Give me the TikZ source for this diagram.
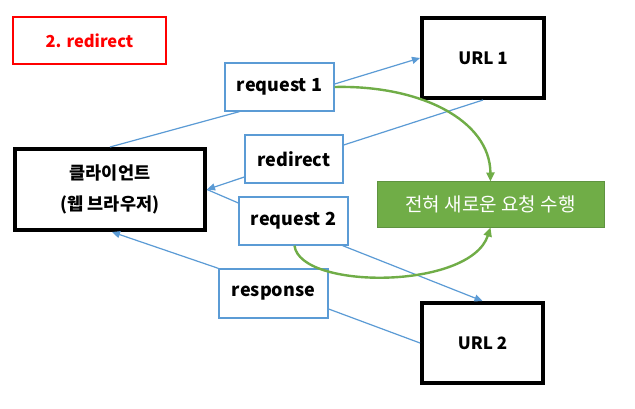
\documentclass[tikz,border=0pt]{standalone}
\usepackage{fontspec}
\setmainfont{Noto Sans CJK KR}
\usetikzlibrary{arrows.meta,calc}
\definecolor{ablue}{HTML}{5B9BD5}
\definecolor{agreen}{HTML}{70AD47}
\definecolor{agreenb}{HTML}{5F9340}
\definecolor{ared}{HTML}{FF0000}
\tikzset{
  bluebox/.style={draw=ablue, line width=1.3pt, fill=white, inner sep=0pt,
    font=\bfseries\fontsize{18}{21}\selectfont, minimum width=109pt, minimum height=48pt},
  thickbox/.style={draw=black, line width=4pt, fill=white, inner sep=0pt,
    font=\bfseries\fontsize{17}{20}\selectfont, minimum width=122pt, minimum height=80pt},
  conn/.style={draw=ablue, line width=1.2pt},
  connarrow/.style={conn, -{Triangle[length=8pt,width=7pt]}},
  greenarrow/.style={draw=agreen, line width=2.4pt, -{Triangle[length=9pt,width=8pt]}}
}
\begin{document}
\begin{tikzpicture}[x=1pt,y=-1pt]
\useasboundingbox[fill=white] (0,0) rectangle (635,409);
% title
\node[draw=ared, line width=1.3pt, text=ared, inner sep=0pt, minimum width=153pt, minimum height=47pt,
  font=\bfseries\fontsize{16.5}{19}\selectfont] (title) at (89.5,40.5) {2. redirect};
% main boxes
\node[thickbox, minimum width=190pt, minimum height=81pt, align=center,
  font=\bfseries\fontsize{17.5}{31}\selectfont] (client) at (110,189.5) {클라이언트\\(웹 브라우저)};
\node[thickbox] (url1) at (483,58) {URL 1};
\node[thickbox, minimum width=121pt] (url2) at (482.5,343) {URL 2};
% message boxes
\node[bluebox] (req1) at (279.5,87) {request 1};
\node[bluebox, minimum width=98pt] (redir) at (294,159) {redirect};
\node[bluebox] (req2) at (293.5,221) {request 2};
\node[bluebox, minimum height=49pt] (resp) at (273.5,293.5) {response};
% green box
\node[draw=agreenb, line width=1pt, fill=agreen, text=white, inner sep=0pt,
  minimum width=227pt, minimum height=45pt, font=\fontsize{19}{22}\selectfont] (newreq) at (490.5,204.5) {전혀 새로운 요청 수행};
% blue connectors
\draw[conn] (client.north) -- ([xshift=15pt]req1.south west);
\draw[connarrow] ([yshift=3pt]req1.east) -- (url1.west);
\draw[conn] (url1.south) -- ([yshift=14pt]redir.east);
\draw[connarrow] ([yshift=-18pt]redir.west) -- (client.east);
\draw[conn] (client.east) -- ([yshift=18pt]req2.west);
\draw[connarrow] ([xshift=-6pt]req2.south east) -- (url2.north);
\draw[conn] (url2.west) -- ([yshift=-15.5pt]resp.east);
\draw[connarrow] (resp.north west) -- ([xshift=2pt]client.south);
% green curves
\draw[greenarrow] (req1.east) .. controls (420,85) and (490,120) .. (newreq.north);
\draw[greenarrow] ([xshift=1pt]req2.south) .. controls (300,290) and (470,290) .. (newreq.south);
\end{tikzpicture}
\end{document}
